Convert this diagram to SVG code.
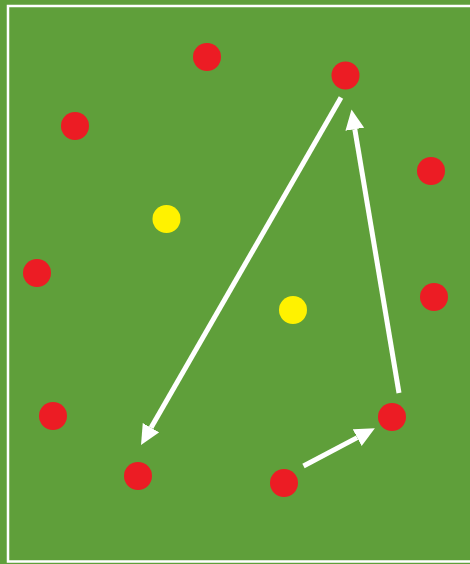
<svg xmlns="http://www.w3.org/2000/svg" width="470" height="564" viewBox="0 0 470 564">
<style>
.red{fill:#ec1c24}
.yel{fill:#fff200}
.arr{stroke:#fff;stroke-width:5;fill:none;marker-end:url(#ah)}
</style>
<defs>
<marker id="ah" markerUnits="userSpaceOnUse" markerWidth="20" markerHeight="20" refX="0" refY="10" orient="auto" viewBox="0 0 20 20">
<path d="M0,0.5 L20,10 L0,19.5 z" fill="#fff"/>
</marker>
</defs>
<rect x="0" y="0" width="470" height="564" fill="#5f9f3a"/>
<rect x="8" y="6" width="480" height="555.5" fill="none" stroke="#fff" stroke-width="2.5"/>
<g id="connectors">
<line class="arr" x1="341" y1="97.5" x2="151" y2="427.7"/>
<line class="arr" x1="399" y1="393" x2="354.8" y2="129.2"/>
<line class="arr" x1="303.5" y1="466" x2="357.2" y2="437.6"/>
</g>
<g id="p1"><circle class="red" cx="207" cy="57" r="14"/></g>
<g id="p2"><circle class="red" cx="345.5" cy="75.5" r="14"/></g>
<g id="p3"><circle class="red" cx="75" cy="126" r="14"/></g>
<g id="p4"><circle class="red" cx="431" cy="171" r="14"/></g>
<g id="y1"><circle class="yel" cx="166.5" cy="219" r="14"/></g>
<g id="p5"><circle class="red" cx="37" cy="273" r="14"/></g>
<g id="p6"><circle class="red" cx="434" cy="297" r="14"/></g>
<g id="y2"><circle class="yel" cx="293" cy="310" r="14"/></g>
<g id="p7"><circle class="red" cx="53" cy="416" r="14"/></g>
<g id="p8"><circle class="red" cx="392" cy="417" r="14"/></g>
<g id="p9"><circle class="red" cx="138" cy="476" r="14"/></g>
<g id="p10"><circle class="red" cx="284" cy="483" r="14"/></g>
</svg>
